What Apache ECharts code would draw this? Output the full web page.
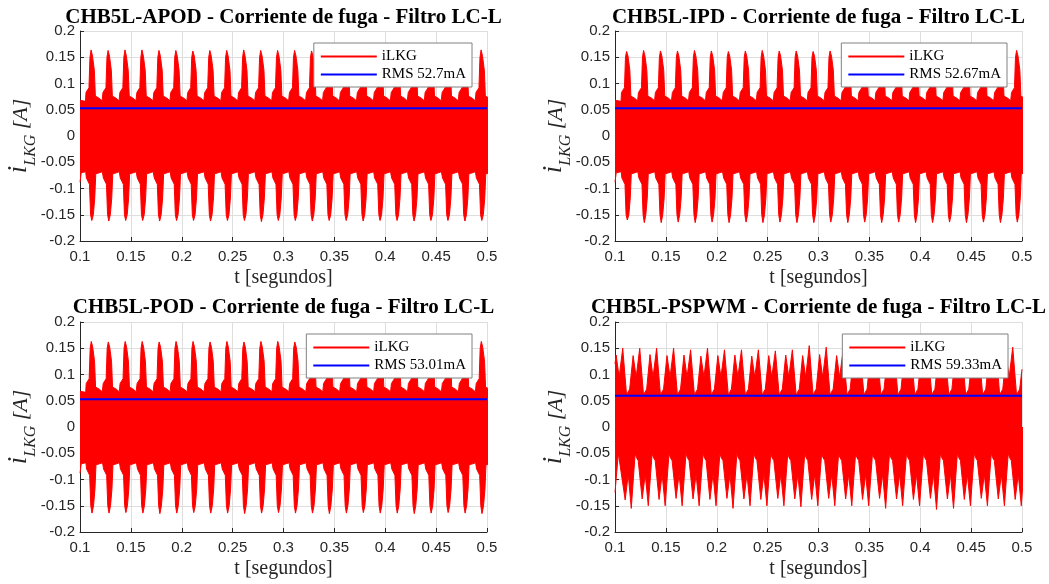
<!DOCTYPE html>
<html><head><meta charset="utf-8">
<script src="https://cdn.jsdelivr.net/npm/echarts@6/dist/echarts.min.js"></script>
<style>html,body{margin:0;padding:0;background:#fff}#c{width:1049px;height:584px}</style>
</head><body><div id="c"></div>
<script>
// ---------- axis / text data ----------
const xMin = 0.1, xMax = 0.5, xStep = 0.05;
const yMin = -0.2, yMax = 0.2, yStep = 0.05;
const titles = [
  'CHB5L-APOD - Corriente de fuga - Filtro LC-L',
  'CHB5L-IPD - Corriente de fuga - Filtro LC-L',
  'CHB5L-POD - Corriente de fuga - Filtro LC-L',
  'CHB5L-PSPWM - Corriente de fuga - Filtro LC-L'
];
const xAxisName = 't [segundos]';
const yAxisName = '{i|i}{s|LKG}{a| [A]}';
const signalName = 'iLKG';
const rmsValues = [0.0527, 0.05267, 0.05301, 0.05933];
const rmsLabels = ['RMS 52.7mA', 'RMS 52.67mA', 'RMS 53.01mA', 'RMS 59.33mA'];

// ---------- envelope readings (per 60 Hz cycle) ----------
// APOD
const apodSpikeT = [0.1113,0.1280,0.1446,0.1613,0.1780,0.1946,0.2113,0.2280,0.2446,0.2613,0.2780,0.2946,0.3113,0.3280,0.3446,0.3613,0.3780,0.3946,0.4113,0.4280,0.4446,0.4613,0.4780,0.4946];
const apodPeakHi = [0.164,0.163,0.164,0.164,0.163,0.163,0.162,0.163,0.163,0.164,0.163,0.163,0.163,0.162,0.163,0.163,0.162,0.162,0.163,0.163,0.163,0.162,0.163,0.164];
const apodPeakLo = [-0.161,-0.162,-0.161,-0.161,-0.162,-0.161,-0.161,-0.162,-0.161,-0.161,-0.163,-0.161,-0.161,-0.162,-0.161,-0.161,-0.162,-0.161,-0.161,-0.162,-0.161,-0.161,-0.162,-0.161];
// IPD
const ipdSpikeT = [0.1118,0.1285,0.1451,0.1618,0.1785,0.1951,0.2118,0.2285,0.2451,0.2618,0.2785,0.2951,0.3118,0.3285,0.3451,0.3618,0.3785,0.3951,0.4118,0.4285,0.4451,0.4618,0.4785,0.4951];
const ipdPeakHi = [0.161,0.163,0.162,0.162,0.163,0.162,0.161,0.162,0.163,0.162,0.162,0.161,0.162,0.163,0.162,0.162,0.161,0.162,0.162,0.163,0.162,0.161,0.162,0.163];
const ipdPeakLo = [-0.160,-0.165,-0.165,-0.164,-0.165,-0.164,-0.165,-0.164,-0.165,-0.164,-0.165,-0.165,-0.164,-0.165,-0.164,-0.165,-0.164,-0.165,-0.165,-0.164,-0.165,-0.164,-0.165,-0.164];
// POD
const podSpikeT = [0.1115,0.1282,0.1448,0.1615,0.1782,0.1948,0.2115,0.2282,0.2448,0.2615,0.2782,0.2948,0.3115,0.3282,0.3448,0.3615,0.3782,0.3948,0.4115,0.4282,0.4448,0.4615,0.4782,0.4948];
const podPeakHi = [0.163,0.162,0.163,0.163,0.162,0.163,0.163,0.162,0.163,0.162,0.163,0.163,0.162,0.163,0.162,0.163,0.163,0.162,0.163,0.162,0.163,0.163,0.162,0.163];
const podPeakLo = [-0.164,-0.164,-0.163,-0.164,-0.165,-0.164,-0.163,-0.164,-0.164,-0.165,-0.164,-0.163,-0.164,-0.164,-0.165,-0.164,-0.163,-0.164,-0.164,-0.165,-0.164,-0.163,-0.164,-0.165];
// spike-type cycle shape (offset from spike in s, level; 'P' = cycle peak)
const spikeUpDt  = [-0.0059,-0.0054,-0.0025,-0.0015,-0.0004,0.0010,0.0028,0.0038,0.0075,0.0104];
const spikeUpLv  = [0.066,0.083,0.092,0.150,'P',0.152,0.125,0.076,0.072,0.067];
const spikeLoDt  = [-0.0057,-0.0050,-0.0020,-0.0009,0.0003,0.0018,0.0032,0.0042,0.0078,0.0106];
const spikeLoLv  = [-0.068,-0.080,-0.092,-0.150,'P',-0.150,-0.118,-0.072,-0.070,-0.068];
const spikeUpStart = [[0.1, 0.068]];
const spikeLoStart = [[0.1, -0.088], [0.1012, -0.070]];

// PSPWM (double peaks: minor 'm' then major 'P')
const psUpT = [0.1076,0.1243,0.1409,0.1576,0.1743,0.1909,0.2076,0.2243,0.2409,0.2576,0.2743,0.2909,0.3076,0.3243,0.3409,0.3576,0.3743,0.3909,0.4076,0.4243,0.4409,0.4576,0.4743,0.4909];
const psUpMajor = [0.150,0.150,0.150,0.150,0.147,0.150,0.147,0.147,0.147,0.145,0.147,0.155,0.152,0.148,0.147,0.148,0.148,0.150,0.148,0.148,0.150,0.148,0.155,0.152];
const psUpMinor = [0.137,0.136,0.138,0.136,0.137,0.135,0.136,0.137,0.135,0.136,0.137,0.136,0.138,0.136,0.135,0.137,0.136,0.137,0.135,0.136,0.137,0.136,0.138,0.137];
const psLoT = [0.1160,0.1327,0.1493,0.1660,0.1827,0.1993,0.2160,0.2327,0.2493,0.2660,0.2827,0.2993,0.3160,0.3327,0.3493,0.3660,0.3827,0.3993,0.4160,0.4327,0.4493,0.4660,0.4827,0.4993];
const psLoMajor = [-0.155,-0.150,-0.150,-0.150,-0.150,-0.150,-0.155,-0.150,-0.150,-0.150,-0.152,-0.150,-0.150,-0.150,-0.150,-0.155,-0.150,-0.150,-0.157,-0.155,-0.150,-0.150,-0.150,-0.150];
const psLoMinor = [-0.139,-0.137,-0.138,-0.136,-0.137,-0.138,-0.136,-0.137,-0.138,-0.136,-0.137,-0.138,-0.136,-0.137,-0.138,-0.136,-0.137,-0.138,-0.136,-0.137,-0.138,-0.136,-0.137,-0.138];
const psUpDt = [-0.0065,-0.0035,0.0000,0.0038,0.0050,0.0068];
const psUpLv = ['m',0.095,'P',0.060,0.066,0.072];
const psLoDt = [-0.0060,-0.0030,0.0000,0.0038,0.0050,0.0068];
const psLoLv = ['m',-0.090,'P',-0.050,-0.058,-0.064];
const psUpStart = [[0.1, 0.120]];
const psUpEnd = [[0.5, 0.110]];
const psLoStart = [[0.1, -0.125], [0.1033, -0.050]];

// ---------- build envelopes from the readings ----------
function buildEnv(start, times, peaks, minors, dts, lvs, end) {
  const out = start.map(p => p.slice());
  times.forEach((t, k) => {
    dts.forEach((d, j) => {
      const lv = lvs[j] === 'P' ? peaks[k] : (lvs[j] === 'm' ? minors[k] : lvs[j]);
      out.push([+(t + d).toFixed(5), lv]);
    });
  });
  (end || []).forEach(p => out.push(p.slice()));
  return out;
}
const envelopes = [
  [buildEnv(spikeUpStart, apodSpikeT, apodPeakHi, null, spikeUpDt, spikeUpLv),
   buildEnv(spikeLoStart, apodSpikeT, apodPeakLo, null, spikeLoDt, spikeLoLv)],
  [buildEnv(spikeUpStart, ipdSpikeT, ipdPeakHi, null, spikeUpDt, spikeUpLv),
   buildEnv(spikeLoStart, ipdSpikeT, ipdPeakLo, null, spikeLoDt, spikeLoLv)],
  [buildEnv(spikeUpStart, podSpikeT, podPeakHi, null, spikeUpDt, spikeUpLv),
   buildEnv(spikeLoStart, podSpikeT, podPeakLo, null, spikeLoDt, spikeLoLv)],
  [buildEnv(psUpStart, psUpT, psUpMajor, psUpMinor, psUpDt, psUpLv, psUpEnd),
   buildEnv(psLoStart, psLoT, psLoMajor, psLoMinor, psLoDt, psLoLv)]
];

// ---------- layout ----------
const grids = [
  {left: 80, top: 31, width: 407, height: 210},
  {left: 615, top: 31, width: 407, height: 210},
  {left: 80, top: 322, width: 407, height: 210},
  {left: 615, top: 322, width: 407, height: 210}
];
const titleTops = [7, 7, 297, 297];
const legendPos = [{right: 577, top: 43}, {right: 42, top: 43}, {right: 577, top: 334}, {right: 41, top: 334}];
const AX = '#262626', GRIDC = '#dedede';
const serif = 'Liberation Serif, Times New Roman, serif';
const sans = 'Liberation Sans, Arial, sans-serif';
const yNameGap = 41;

const option = {
  animation: false,
  backgroundColor: '#fff',
  title: titles.map((t, i) => ({
    text: t, left: grids[i].left + grids[i].width / 2, top: titleTops[i], textAlign: 'center', padding: 0,
    textStyle: {fontFamily: serif, fontWeight: 'bold', fontSize: 21, color: '#000'}
  })),
  legend: rmsLabels.map((r, i) => Object.assign({
    data: [signalName, r], orient: 'vertical', selectedMode: false,
    icon: 'rect', itemWidth: 56, itemHeight: 2, itemGap: 3, padding: [6, 6, 5, 7],
    backgroundColor: '#fff', borderColor: '#808080', borderWidth: 1, borderRadius: 0,
    textStyle: {fontFamily: serif, fontSize: 15, color: '#000'}
  }, legendPos[i])),
  grid: grids,
  graphic: grids.map(g => ({
    type: 'text', x: g.left - yNameGap, y: g.top + g.height / 2, rotation: Math.PI / 2, silent: true,
    style: {
      text: yAxisName, align: 'center', verticalAlign: 'bottom', fill: AX,
      rich: {
        i: {fontFamily: serif, fontStyle: 'italic', fontSize: 27, fill: AX, verticalAlign: 'bottom', padding: [0, 0, 7, 0]},
        s: {fontFamily: serif, fontStyle: 'italic', fontSize: 16, fill: AX, verticalAlign: 'bottom'},
        a: {fontFamily: serif, fontStyle: 'italic', fontSize: 22, fill: AX, verticalAlign: 'bottom', padding: [0, 0, 7, 0]}
      }
    }
  })),
  xAxis: grids.map((g, i) => ({
    type: 'value', gridIndex: i, min: xMin, max: xMax, interval: xStep,
    name: xAxisName, nameLocation: 'middle', nameGap: 27,
    nameTextStyle: {fontFamily: serif, fontSize: 20, color: AX},
    axisLine: {show: true, onZero: false, lineStyle: {color: AX, width: 1}},
    axisTick: {show: true, inside: true, length: 4, lineStyle: {color: AX}},
    axisLabel: {fontFamily: sans, fontSize: 15, color: AX, margin: 8},
    splitLine: {show: true, lineStyle: {color: GRIDC, width: 1}}
  })),
  yAxis: grids.map((g, i) => ({
    type: 'value', gridIndex: i, min: yMin, max: yMax, interval: yStep,
    axisLine: {show: true, onZero: false, lineStyle: {color: AX, width: 1}},
    axisTick: {show: true, inside: true, length: 4, lineStyle: {color: AX}},
    axisLabel: {fontFamily: sans, fontSize: 15, color: AX, margin: 5},
    splitLine: {show: true, lineStyle: {color: GRIDC, width: 1}}
  })),
  series: []
};

envelopes.forEach((env, i) => {
  env.forEach(part => {
    option.series.push({
      type: 'line', name: signalName, xAxisIndex: i, yAxisIndex: i,
      data: part, symbol: 'none', showSymbol: false, sampling: null,
      lineStyle: {color: '#ff0000', width: 1}, itemStyle: {color: '#ff0000'},
      areaStyle: {color: '#ff0000', opacity: 1, origin: 'auto'},
      z: 2, silent: true
    });
  });
  option.series.push({
    type: 'line', name: rmsLabels[i], xAxisIndex: i, yAxisIndex: i,
    data: [[xMin, rmsValues[i]], [xMax, rmsValues[i]]], symbol: 'none',
    lineStyle: {color: '#0000ff', width: 2}, itemStyle: {color: '#0000ff'},
    z: 3, silent: true
  });
});

const chart = echarts.init(document.getElementById('c'), null, {renderer: 'canvas'});
chart.setOption(option);
</script>
</body></html>
